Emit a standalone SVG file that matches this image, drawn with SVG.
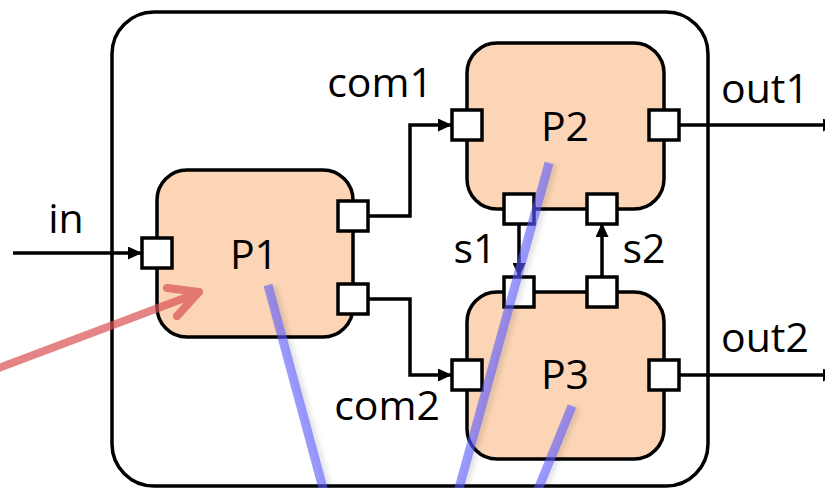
<svg xmlns="http://www.w3.org/2000/svg" width="825" height="488" viewBox="0 0 825 488">
  <style>
    .frame { fill: #ffffff; stroke: #000000; stroke-width: 3.5; }
    .proc { fill: #fbd5b5; stroke: #000000; stroke-width: 3.5; }
    .port { fill: #ffffff; stroke: #000000; stroke-width: 3.5; }
    .wire { fill: none; stroke: #000000; stroke-width: 3.5; }
    .label { font-family: "Open Sans", "Liberation Sans", sans-serif; font-size: 41px; fill: #000000; text-anchor: middle; }
    .trace { fill: none; stroke: #5a5aff; stroke-width: 9; stroke-opacity: 0.6; }
    .pointer { fill: none; stroke: #d85050; stroke-width: 8; stroke-linecap: round; stroke-linejoin: round; }
  </style>
  <defs>
    <marker id="arrow" markerUnits="userSpaceOnUse" markerWidth="14" markerHeight="13" refX="13" refY="6.5" orient="auto">
      <path d="M0,0 L14,6.5 L0,13 z" fill="#000000"/>
    </marker>
    <filter id="shade" x="-50%" y="-10%" width="200%" height="120%">
      <feDropShadow dx="4" dy="1" stdDeviation="2.5" flood-color="#000000" flood-opacity="0.18"/>
    </filter>
  </defs>

  <!-- enclosing system boundary -->
  <rect id="system" class="frame" x="112" y="12" width="596" height="474" rx="42"/>

  <!-- channels between ports -->
  <g id="connectors">
    <path class="wire" d="M13,253 H141" marker-end="url(#arrow)"/>
    <path class="wire" d="M368,216 H410 V125 H451" marker-end="url(#arrow)"/>
    <path class="wire" d="M368,299 H410 V375 H451" marker-end="url(#arrow)"/>
    <path class="wire" d="M679,125 H836" marker-end="url(#arrow)"/>
    <path class="wire" d="M679,375 H836" marker-end="url(#arrow)"/>
    <path class="wire" d="M519,224 V276" marker-end="url(#arrow)"/>
    <path class="wire" d="M602,277 V224" marker-end="url(#arrow)"/>
  </g>

  <g id="P1">
    <rect class="proc" x="157" y="170" width="196" height="167" rx="30"/>
    <rect class="port" x="142" y="238" width="30" height="30"/>
    <rect class="port" x="338" y="201" width="30" height="30"/>
    <rect class="port" x="338" y="284" width="30" height="30"/>
    <text class="label" x="254" y="269">P1</text>
  </g>

  <g id="P2">
    <rect class="proc" x="467" y="43" width="197" height="166" rx="30"/>
    <rect class="port" x="452" y="110" width="30" height="30"/>
    <rect class="port" x="649" y="110" width="30" height="30"/>
    <rect class="port" x="504" y="194" width="30" height="30"/>
    <rect class="port" x="587" y="194" width="30" height="30"/>
    <text class="label" x="565" y="141">P2</text>
  </g>

  <g id="P3">
    <rect class="proc" x="467" y="292" width="197" height="167" rx="30"/>
    <rect class="port" x="504" y="277" width="30" height="30"/>
    <rect class="port" x="587" y="277" width="30" height="30"/>
    <rect class="port" x="452" y="360" width="30" height="30"/>
    <rect class="port" x="649" y="360" width="30" height="30"/>
    <text class="label" x="565" y="389">P3</text>
  </g>

  <!-- channel names -->
  <g id="labels">
    <text class="label" x="66" y="233">in</text>
    <text class="label" x="380" y="97">com1</text>
    <text class="label" x="387" y="420">com2</text>
    <text class="label" x="475" y="263">s1</text>
    <text class="label" x="644" y="263">s2</text>
    <text class="label" x="765" y="103">out1</text>
    <text class="label" x="765" y="352">out2</text>
  </g>

  <!-- highlighted strokes over the diagram -->
  <g id="traces" filter="url(#shade)">
    <path class="trace" d="M268,285 L324,492"/>
    <path class="trace" d="M549,163 L458,492"/>
    <path class="trace" d="M572,406 L537,492"/>
  </g>
  <g id="pointer" opacity="0.7">
    <path class="pointer" d="M-4,369 L198,293 M167,288 L199,292 L177,316"/>
  </g>
</svg>
